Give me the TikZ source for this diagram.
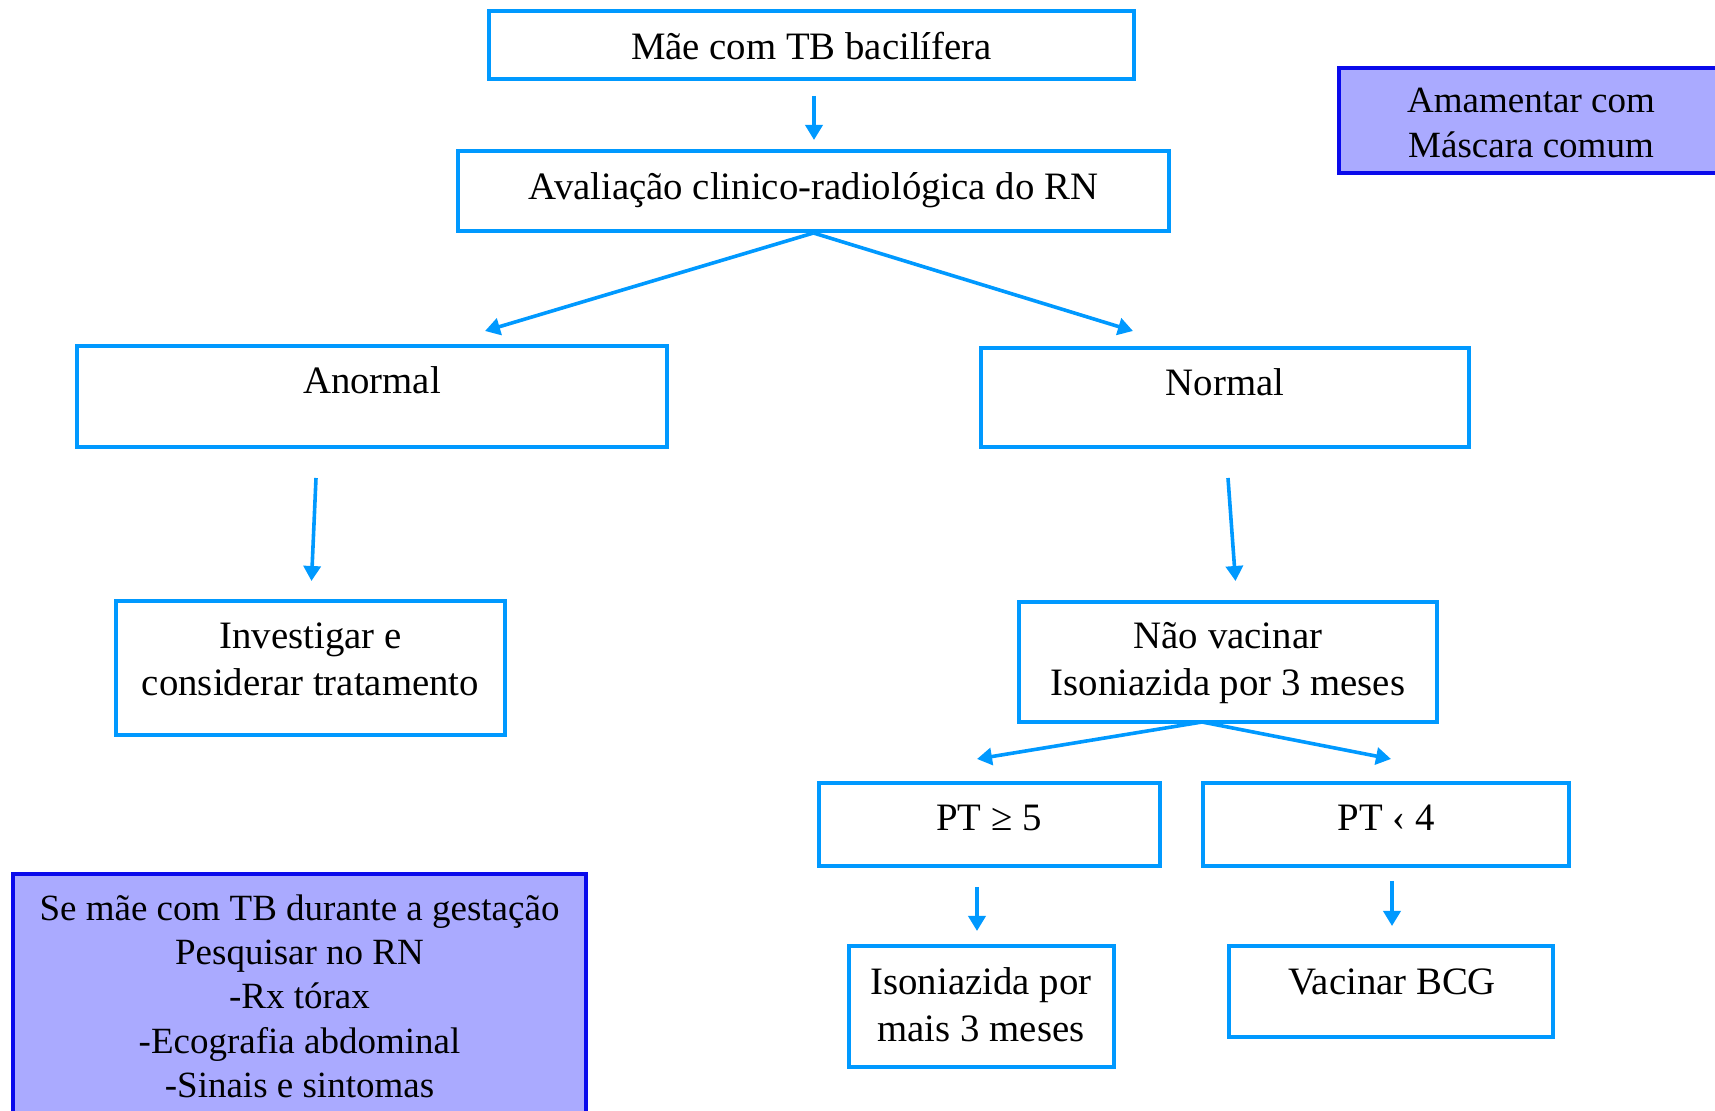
\documentclass[tikz,border=0pt]{standalone}
\usepackage{fontspec}
\setmainfont{Liberation Serif}
\usetikzlibrary{arrows.meta}
\definecolor{flowblue}{RGB}{0,153,255}
\definecolor{notefill}{RGB}{170,170,255}
\definecolor{noteedge}{RGB}{10,10,235}
\begin{document}
\begin{tikzpicture}[x=0.5pt,y=-0.5pt,
  flowbox/.style={draw=flowblue,line width=2pt,inner sep=0pt},
  notebox/.style={draw=noteedge,fill=notefill,line width=2pt,inner sep=0pt},
  txt/.style={anchor=base,inner sep=0pt,font=\fontsize{19.4pt}{22.3pt}\selectfont},
  notetxt/.style={anchor=base,inner sep=0pt,font=\fontsize{18.5pt}{21.3pt}\selectfont},
  flowarrow/.style={draw=flowblue,line width=1.8pt,-{Triangle[length=7.5pt,width=8.5pt]}}]
\useasboundingbox (0,0) rectangle (1715,1111);
\clip (0,0) rectangle (1715,1111);

% boxes of the flow chart
\node[flowbox,minimum width=322.5pt,minimum height=34pt] (mae) at (811.5,45) {};
\node[flowbox,minimum width=355.5pt,minimum height=40pt] (aval) at (813.5,191) {};
\node[flowbox,minimum width=295pt,minimum height=50.5pt] (anormal) at (372,396.5) {};
\node[flowbox,minimum width=244pt,minimum height=49.5pt] (normal) at (1225,397.5) {};
\node[flowbox,minimum width=194.5pt,minimum height=67pt] (invest) at (310.5,668) {};
\node[flowbox,minimum width=209pt,minimum height=60pt] (naovac) at (1228,662) {};
\node[flowbox,minimum width=170.5pt,minimum height=41.5pt] (pt5) at (989.5,824.5) {};
\node[flowbox,minimum width=183pt,minimum height=41.5pt] (pt4) at (1386,824.5) {};
\node[flowbox,minimum width=132.5pt,minimum height=60.5pt] (iso) at (981.5,1006.5) {};
\node[flowbox,minimum width=162pt,minimum height=45.5pt] (bcg) at (1391,991.5) {};

% side notes
\node[notebox,minimum width=195.5pt,minimum height=52.5pt] (amam) at (1534.5,120.5) {};
\node[notebox,minimum width=286.5pt,minimum height=128pt] (gest) at (299.5,1002) {};

% texts
\node[txt] (mae-t) at (811.5,59.5) {Mãe com TB bacilífera};
\node[txt] (aval-t) at (813.5,199.5) {Avaliação clinico-radiológica do RN};
\node[txt] (anormal-t) at (372,393.5) {Anormal};
\node[txt] (normal-t) at (1225,395.5) {Normal};
\node[txt] (invest-t1) at (310.5,648.5) {Investigar e};
\node[txt] (invest-t2) at (310.5,695.5) {considerar tratamento};
\node[txt] (naovac-t1) at (1228,648.5) {Não vacinar};
\node[txt] (naovac-t2) at (1228,695.5) {Isoniazida por 3 meses};
\node[txt] (pt5-t) at (989,830.5) {PT ≥ 5};
\node[txt] (pt4-t) at (1386,830.5) {PT ‹ 4};
\node[txt] (iso-t1) at (981,994.5) {Isoniazida por};
\node[txt] (iso-t2) at (981,1041.5) {mais 3 meses};
\node[txt] (bcg-t) at (1392,994.5) {Vacinar BCG};
\node[notetxt] (amam-t1) at (1531,113) {Amamentar com};
\node[notetxt] (amam-t2) at (1531,158) {Máscara comum};
\node[notetxt] (gest-t1) at (299.5,921) {Se mãe com TB durante a gestação};
\node[notetxt] (gest-t2) at (299.5,965) {Pesquisar no RN};
\node[notetxt] (gest-t3) at (299.5,1009) {-Rx tórax};
\node[notetxt] (gest-t4) at (299.5,1054) {-Ecografia abdominal};
\node[notetxt] (gest-t5) at (299.5,1098) {-Sinais e sintomas};

% arrow end points
\coordinate (a1s) at (814,96);
\coordinate (a1e) at (814,140);
\coordinate (la) at (485,331);
\coordinate (ra) at (1133,331);
\coordinate (b1s) at (316,478);
\coordinate (b1e) at (311.5,581);
\coordinate (b2s) at (1228,478);
\coordinate (b2e) at (1235.5,581);
\coordinate (cs) at (1202,722);
\coordinate (c1e) at (977,759);
\coordinate (c2e) at (1391,759);
\coordinate (d1s) at (977,887);
\coordinate (d1e) at (977,931);
\coordinate (d2s) at (1392,881);
\coordinate (d2e) at (1392,926);

% arrows
\draw[flowarrow] (a1s) -- (a1e);
\draw[flowarrow] (aval.south) -- (la);
\draw[flowarrow] (aval.south) -- (ra);
\draw[flowarrow] (b1s) -- (b1e);
\draw[flowarrow] (b2s) -- (b2e);
\draw[flowarrow] (cs) -- (c1e);
\draw[flowarrow] (cs) -- (c2e);
\draw[flowarrow] (d1s) -- (d1e);
\draw[flowarrow] (d2s) -- (d2e);
\end{tikzpicture}
\end{document}
